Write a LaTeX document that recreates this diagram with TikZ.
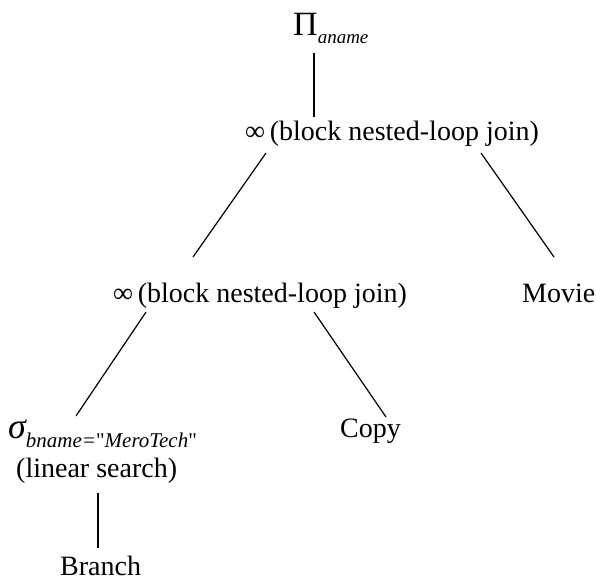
\documentclass[tikz,border=0pt]{standalone}
\usepackage{fontspec}
\setmainfont{Liberation Serif}
% upright straight double quote, kept from the TeX ligature mapping
\newcommand{\straightquote}{{\upshape\addfontfeatures{Ligatures=TeXOff}"}}
\begin{document}
\begin{tikzpicture}[x=1pt,y=-1pt,
  txt/.style={inner sep=0pt, anchor=base west, font=\fontsize{28}{30}\selectfont},
  edge/.style={line width=1.2pt}]
\useasboundingbox (0,0) rectangle (596,580);

% operator and relation labels
\node[txt] (proj) at (293,36)
  {{\fontsize{34}{34}\selectfont Π}\raisebox{-8pt}{\fontsize{19}{19}\selectfont\itshape aname}};
\node[txt] (joinA) at (245,141) {∞\,(block nested-loop join)};
\node[txt] (joinB) at (113,302) {∞\,(block nested-loop join)};
\node[txt] (movie) at (522,302) {Movie};
\node[txt] (copy) at (340,437) {Copy};
\node[txt] (sel) at (8,438)
  {{\fontsize{36}{36}\selectfont\itshape σ}\raisebox{-9pt}{\fontsize{21}{21}\selectfont\itshape bname=\straightquote MeroTech\straightquote}};
\node[txt] (srch) at (16,477) {(linear search)};
\node[txt] (branch) at (60,575) {Branch};

% end points of the tree edges
\coordinate (p1) at (314,53);   \coordinate (p2) at (314,117);
\coordinate (a1) at (266,153);  \coordinate (a2) at (193,257);
\coordinate (a3) at (481,153);  \coordinate (a4) at (554,257);
\coordinate (b1) at (146,312);  \coordinate (b2) at (76,416);
\coordinate (b3) at (314,312);  \coordinate (b4) at (386,417);
\coordinate (s1) at (98,493);   \coordinate (s2) at (98,548);

\draw[edge] (p1) -- (p2);
\draw[edge] (a1) -- (a2);
\draw[edge] (a3) -- (a4);
\draw[edge] (b1) -- (b2);
\draw[edge] (b3) -- (b4);
\draw[edge] (s1) -- (s2);
\end{tikzpicture}
\end{document}
